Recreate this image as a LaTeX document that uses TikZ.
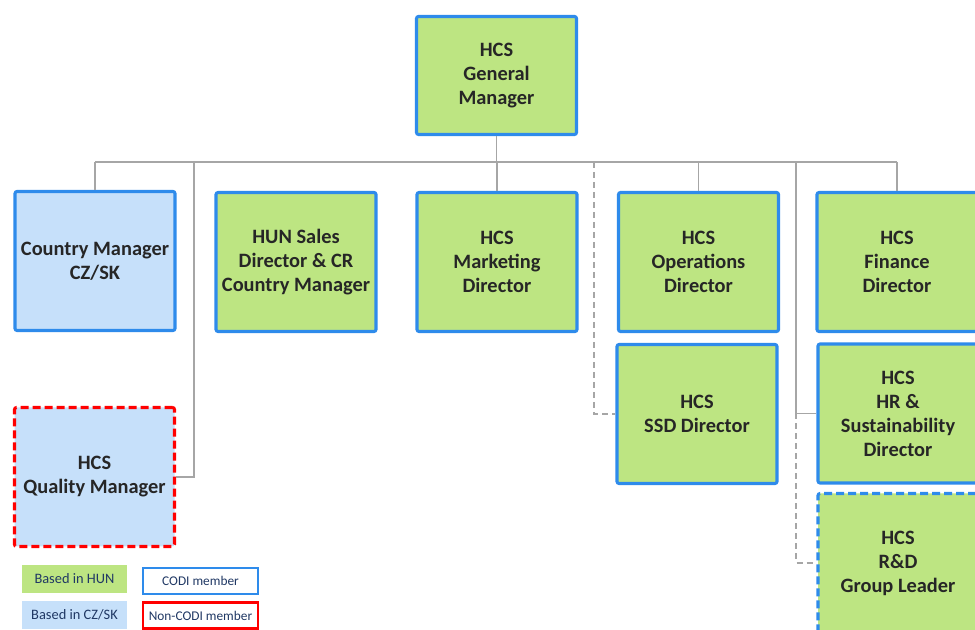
\documentclass[tikz,border=0pt]{standalone}
\usepackage{fontspec}
\setmainfont{Carlito}
\definecolor{hungreen}{HTML}{BDE582}
\definecolor{czblue}{HTML}{C6E0FA}
\definecolor{codiblue}{HTML}{2E8BEB}
\definecolor{noncodi}{HTML}{FF0000}
\definecolor{linkgray}{HTML}{A6A6A6}
\definecolor{boxtext}{HTML}{262626}
\definecolor{legendtext}{HTML}{203864}
\tikzset{
  orgbox/.style={draw=codiblue, line width=2.3pt, rounded corners=1.5pt,
    minimum width=120pt, minimum height=104.25pt, align=center,
    font=\fontsize{15.3}{18}\selectfont\bfseries, text=boxtext, inner sep=0pt},
  hun/.style={orgbox, fill=hungreen},
  czsk/.style={orgbox, fill=czblue},
  noncodibox/.style={draw=noncodi, dash pattern=on 6pt off 3pt},
  interim/.style={dash pattern=on 6pt off 3pt},
  conn/.style={draw=linkgray, line width=1.1pt},
  dashconn/.style={conn, dash pattern=on 4.5pt off 3pt},
  legfill/.style={minimum width=78.75pt, minimum height=21pt, inner sep=0pt,
    text=legendtext, font=\fontsize{10.8}{12}\selectfont},
  legframe/.style={fill=white, line width=1.6pt, minimum width=86pt, minimum height=19.5pt,
    inner sep=0pt, text=legendtext, font=\fontsize{10}{11}\selectfont},
}
\begin{document}
\begin{tikzpicture}[x=0.75pt, y=-0.75pt]
\useasboundingbox (0,0) rectangle (975,630);
\clip (0,0) rectangle (975,630);

% top of the chart
\node[hun, minimum height=88.5pt] (gm) at (496.5,75.5) {HCS\\General\\Manager};

% first row of direct reports
\node[czsk] (cm)  at (95,261)    {Country Manager\\CZ/SK};
\node[hun]  (hun) at (296,262)   {HUN Sales\\Director \& CR\\Country Manager};
\node[hun]  (mkt) at (497,262)   {HCS\\Marketing\\Director};
\node[hun]  (ops) at (698.5,262) {HCS\\Operations\\Director};
\node[hun]  (fin) at (897,262)   {HCS\\Finance\\Director};

% second level boxes
\node[hun]  (ssd) at (697,414)   {HCS\\SSD Director};
\node[hun]  (hr)  at (898,413.5) {HCS\\HR \&\\Sustainability\\Director};
\node[hun, interim] (rd) at (898,563) {HCS\\R\&D\\Group Leader};
\node[czsk, noncodibox] (qm) at (94.5,477) {HCS\\Quality Manager};

% reporting lines
\coordinate (busL) at (95,162);
\coordinate (busR) at (897,162);
\coordinate (tapQ) at (194,162);
\coordinate (tapS) at (594,162);
\coordinate (tapH) at (796,162);

\draw[conn] (gm.south) -- (gm.south |- busL);
\draw[conn] (busL) -- (busR);
\draw[conn] (busL) -- (cm.north);
\draw[conn] (mkt.north |- busL) -- (mkt.north);
\draw[conn] (ops.north |- busL) -- (ops.north);
\draw[conn] (busR) -- (fin.north);
\draw[conn] (tapQ) |- (qm.east);
\draw[dashconn] (tapS) |- (ssd.west);
\draw[conn] (tapH) |- (hr.west);
\draw[dashconn] (tapH |- hr.west) |- (rd.west);

% legend
\node[legfill, fill=hungreen] (lhun) at (74.5,579) {Based in HUN};
\node[legfill, fill=czblue]   (lcz)  at (74.5,615) {Based in CZ/SK};
\node[legframe, draw=codiblue] (lcodi) at (200.5,581) {CODI member};
\node[legframe, draw=noncodi]  (lnon)  at (200.5,615.5) {Non-CODI member};
\end{tikzpicture}
\end{document}
